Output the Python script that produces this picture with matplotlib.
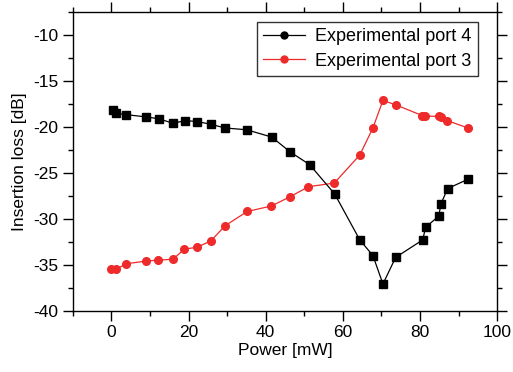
import matplotlib
matplotlib.use('Agg')
import matplotlib.pyplot as plt
from matplotlib.lines import Line2D
from matplotlib.ticker import MultipleLocator

plt.rcParams['font.family'] = ['Liberation Sans', 'DejaVu Sans']
plt.rcParams['axes.unicode_minus'] = False

# Datos: potencia [mW] y perdida de insercion [dB]
power_p4 = [0.4, 1.1, 3.8, 9.0, 12.3, 16.0, 19.1, 22.2, 25.8, 29.4, 35.1, 41.6, 46.3,
            51.4, 57.9, 64.4, 67.8, 70.4, 73.7, 80.7, 81.5, 84.9, 85.4, 87.2, 92.4]
loss_p4 = [-18.1, -18.5, -18.65, -18.9, -19.1, -19.6, -19.3, -19.4, -19.7, -20.1, -20.3,
           -21.1, -22.7, -24.1, -27.3, -32.3, -34.0, -37.1, -34.2, -32.3, -30.9, -29.7,
           -28.4, -26.7, -25.7]

power_p3 = [0.0, 1.2, 3.8, 9.0, 12.2, 16.0, 18.9, 22.2, 25.8, 29.5, 35.2, 41.5, 46.3,
            51.1, 57.8, 64.4, 67.8, 70.4, 73.8, 80.6, 81.3, 84.9, 85.4, 87.1, 92.4]
loss_p3 = [-35.5, -35.5, -34.9, -34.6, -34.5, -34.4, -33.3, -33.1, -32.4, -30.75, -29.2,
           -28.6, -27.6, -26.5, -26.1, -23.05, -20.1, -17.1, -17.6, -18.75, -18.8, -18.85,
           -18.95, -19.3, -20.1]

labels = ['Experimental port 4', 'Experimental port 3']

red = '#ee2a2a'

fig = plt.figure(figsize=(5.13, 3.72), dpi=100)
ax = fig.add_axes([0.142, 0.165, 0.827, 0.802])

ax.plot(power_p4, loss_p4, color='black', lw=0.9, marker='s', ms=6, zorder=3)
ax.plot(power_p3, loss_p3, color=red, lw=0.9, marker='o', ms=5.5, zorder=2)

ax.set_xlim(-10, 100)
ax.set_ylim(-40, -7.5)
ax.xaxis.set_major_locator(MultipleLocator(20))
ax.xaxis.set_minor_locator(MultipleLocator(10))
ax.yaxis.set_major_locator(MultipleLocator(5))
ax.yaxis.set_minor_locator(MultipleLocator(2.5))
ax.tick_params(which='both', direction='out', top=True, right=True,
               labeltop=False, labelright=False, labelsize=12.5, width=1)
ax.tick_params(which='major', length=7)
ax.tick_params(which='minor', length=3.5)
for s in ax.spines.values():
    s.set_linewidth(1)

ax.set_xlabel('Power [mW]', fontsize=12.5, labelpad=2)
ax.set_ylabel('Insertion loss [dB]', fontsize=12.5, labelpad=4)

handles = [Line2D([], [], color='black', lw=0.9, marker='o', ms=5),
           Line2D([], [], color=red, lw=0.9, marker='o', ms=5)]
leg = ax.legend(handles, labels, loc='upper right', bbox_to_anchor=(0.955, 0.967),
                fontsize=13, frameon=True, fancybox=False, edgecolor='black',
                handlelength=2.3, borderpad=0.35, labelspacing=0.4, handletextpad=0.6,
                borderaxespad=0)
leg.get_frame().set_linewidth(1)

fig.savefig('out.png', dpi=100)
